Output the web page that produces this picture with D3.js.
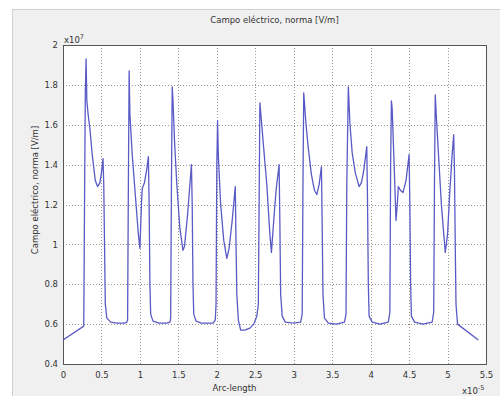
<!DOCTYPE html>
<html>
<head>
<meta charset="utf-8">
<script src="https://cdn.jsdelivr.net/npm/d3@7"></script>
<style>
  body { margin: 0; background: #fff; }
  text { font-family: "DejaVu Sans", sans-serif; fill: #333; }
</style>
</head>
<body>
<svg id="chart" width="500" height="396"></svg>
<script>
// arc length (x10^-5) and field norm (x10^7 V/m)
const arcLen = [
  0, 0.27, 0.28, 0.29, 0.30, 0.31, 0.33, 0.35, 0.38, 0.42, 0.45, 0.48, 0.50, 0.52, 0.53, 0.54, 0.55, 0.57, 0.62, 0.70, 0.80, 0.83,
  0.84, 0.85, 0.86, 0.87, 0.90, 0.94, 0.98, 1.00, 1.02, 1.03, 1.06, 1.09, 1.11, 1.12, 1.13, 1.14, 1.17, 1.25, 1.35, 1.39,
  1.40, 1.41, 1.42, 1.43, 1.45, 1.48, 1.52, 1.56, 1.58, 1.62, 1.65, 1.67, 1.68, 1.69, 1.70, 1.73, 1.80, 1.95, 1.98,
  1.99, 2.00, 2.01, 2.02, 2.05, 2.09, 2.13, 2.16, 2.20, 2.24, 2.25, 2.26, 2.28, 2.31, 2.36, 2.43, 2.48, 2.52, 2.54,
  2.55, 2.56, 2.58, 2.61, 2.65, 2.69, 2.71, 2.74, 2.77, 2.81, 2.82, 2.83, 2.85, 2.89, 3.00, 3.09,
  3.11, 3.12, 3.13, 3.16, 3.19, 3.23, 3.27, 3.30, 3.33, 3.36, 3.37, 3.38, 3.40, 3.45, 3.55, 3.66,
  3.68, 3.69, 3.71, 3.73, 3.76, 3.80, 3.85, 3.88, 3.91, 3.95, 3.96, 3.97, 3.98, 4.02, 4.12, 4.23,
  4.25, 4.26, 4.27, 4.28, 4.30, 4.33, 4.35, 4.36, 4.39, 4.42, 4.46, 4.50, 4.51, 4.52, 4.53, 4.57, 4.68, 4.80,
  4.82, 4.83, 4.84, 4.86, 4.89, 4.92, 4.97, 5.00, 5.03, 5.06, 5.08, 5.09, 5.10, 5.11, 5.13, 5.40
];
const fieldNorm = [
  0.52, 0.59, 1.20, 1.75, 1.93, 1.72, 1.64, 1.58, 1.45, 1.32, 1.29, 1.31, 1.36, 1.43, 1.30, 1.00, 0.70, 0.63, 0.61, 0.605, 0.605, 0.61,
  0.62, 1.30, 1.87, 1.65, 1.45, 1.25, 1.05, 0.98, 1.20, 1.28, 1.31, 1.38, 1.44, 1.20, 0.80, 0.65, 0.615, 0.605, 0.605, 0.61,
  0.63, 1.30, 1.79, 1.72, 1.52, 1.30, 1.08, 0.97, 0.99, 1.15, 1.30, 1.40, 1.20, 0.80, 0.65, 0.615, 0.605, 0.605, 0.62,
  0.70, 1.40, 1.62, 1.44, 1.20, 1.02, 0.93, 0.98, 1.12, 1.29, 1.00, 0.75, 0.62, 0.57, 0.57, 0.58, 0.60, 0.64, 0.70,
  1.20, 1.71, 1.62, 1.48, 1.30, 1.05, 0.96, 1.12, 1.27, 1.40, 1.10, 0.75, 0.64, 0.61, 0.605, 0.61,
  0.65, 1.30, 1.76, 1.60, 1.48, 1.35, 1.27, 1.25, 1.30, 1.39, 1.10, 0.75, 0.63, 0.605, 0.60, 0.61,
  0.65, 1.30, 1.79, 1.61, 1.46, 1.36, 1.29, 1.31, 1.37, 1.49, 1.20, 0.80, 0.64, 0.61, 0.60, 0.61,
  0.66, 1.40, 1.72, 1.68, 1.46, 1.12, 1.22, 1.29, 1.27, 1.26, 1.32, 1.45, 1.20, 0.80, 0.64, 0.61, 0.60, 0.61,
  0.66, 1.30, 1.75, 1.60, 1.40, 1.20, 0.96, 1.05, 1.27, 1.45, 1.55, 1.37, 1.00, 0.70, 0.60, 0.52
];
const xTicks = [0, 0.5, 1, 1.5, 2, 2.5, 3, 3.5, 4, 4.5, 5, 5.5];
const yTicks = [0.4, 0.6, 0.8, 1, 1.2, 1.4, 1.6, 1.8, 2];

const svg = d3.select("#chart");
const pLeft = 63, pRight = 486, pTop = 45, pBottom = 364;

// grey figure panel
svg.append("rect")
  .attr("x", 12.5).attr("y", 9.5).attr("width", 490).attr("height", 390)
  .attr("fill", "#f0f0f0").attr("stroke", "#d0d0d0");

svg.append("rect")
  .attr("x", pLeft).attr("y", pTop).attr("width", pRight - pLeft).attr("height", pBottom - pTop)
  .attr("fill", "#fff");

const x = d3.scaleLinear().domain([0, 5.5]).range([pLeft, pRight]);
const y = d3.scaleLinear().domain([0.4, 2]).range([pBottom, pTop]);

// grid
svg.append("g").selectAll("line").data(xTicks.slice(1, -1)).join("line")
  .attr("x1", d => Math.round(x(d)) + 0.5).attr("x2", d => Math.round(x(d)) + 0.5)
  .attr("y1", pTop).attr("y2", pBottom)
  .attr("stroke", "#9a948c").attr("stroke-dasharray", "1,2");
svg.append("g").selectAll("line").data(yTicks.slice(1, -1)).join("line")
  .attr("y1", d => Math.round(y(d)) + 0.5).attr("y2", d => Math.round(y(d)) + 0.5)
  .attr("x1", pLeft).attr("x2", pRight)
  .attr("stroke", "#9a948c").attr("stroke-dasharray", "1,2");

// axes
const xAxis = svg.append("g").attr("transform", `translate(0,${pBottom})`)
  .call(d3.axisBottom(x).tickValues(xTicks).tickSize(0).tickPadding(8).tickFormat(d3.format("~g")));
const yAxis = svg.append("g").attr("transform", `translate(${pLeft},0)`)
  .call(d3.axisLeft(y).tickValues(yTicks).tickSize(0).tickPadding(5).tickFormat(d3.format("~g")));
[xAxis, yAxis].forEach(a => {
  a.select(".domain").remove();
  a.selectAll("text").attr("font-size", 8.5).attr("font-family", "DejaVu Sans").attr("fill", "#333");
});

svg.append("rect")
  .attr("x", pLeft + 0.5).attr("y", pTop + 0.5).attr("width", pRight - pLeft).attr("height", pBottom - pTop)
  .attr("fill", "none").attr("stroke", "#555");

// data line
const line = d3.line().x(d => x(d[0])).y(d => y(d[1]));
svg.append("path")
  .datum(d3.zip(arcLen, fieldNorm))
  .attr("d", line)
  .attr("fill", "none")
  .attr("stroke", "#5a5ac6")
  .attr("stroke-width", 1.3)
  .attr("stroke-linejoin", "round");

// labels
svg.append("text").attr("x", (pLeft + pRight) / 2).attr("y", 23)
  .attr("text-anchor", "middle").attr("font-size", 8.5).text("Campo eléctrico, norma [V/m]");
svg.append("text").attr("transform", "translate(38,190) rotate(-90)")
  .attr("text-anchor", "middle").attr("font-size", 8.5).text("Campo eléctrico, norma [V/m]");
svg.append("text").attr("x", (pLeft + pRight) / 2 - 40).attr("y", 391)
  .attr("text-anchor", "middle").attr("font-size", 8.5).text("Arc-length");

const ex = svg.append("text").attr("x", 64).attr("y", 43).attr("font-size", 8.5);
ex.append("tspan").text("x10");
ex.append("tspan").attr("dy", -4).attr("font-size", 6.5).text("7");

const ex2 = svg.append("text").attr("x", 462).attr("y", 394).attr("font-size", 8.5);
ex2.append("tspan").text("x10");
ex2.append("tspan").attr("dy", -4).attr("font-size", 6.5).text("-5");
</script>
</body>
</html>
